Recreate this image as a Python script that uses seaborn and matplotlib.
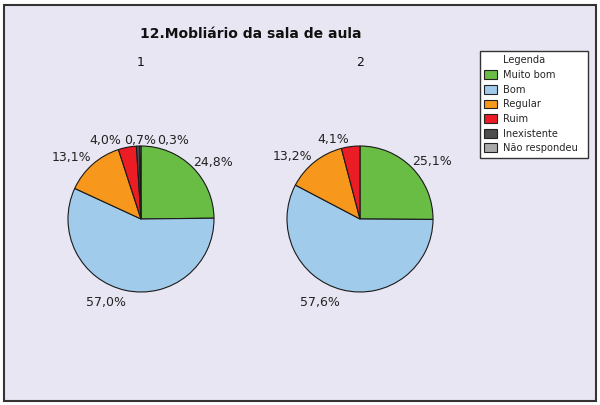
import seaborn as sns, numpy as np
import matplotlib.pyplot as plt
from matplotlib.patches import Patch, Rectangle

# data
categorias = ["Muito bom", "Bom", "Regular", "Ruim", "Inexistente", "Não respondeu"]
turma1 = [24.8, 57.0, 13.1, 4.0, 0.7, 0.3]
turma2 = [25.1, 57.6, 13.2, 4.1, 0.0, 0.0]
titulos = ["1", "2"]
cores = sns.color_palette(["#69bd45", "#a1cbea", "#f7981d", "#ec1c24", "#4d4d4d", "#a9a9a9"])

sns.set_style("white")
plt.rcParams['font.family'] = ['DejaVu Sans']

fig = plt.figure(figsize=(6, 4.05), dpi=100)
fig.patch.set_facecolor("white")
fig.patches.append(Rectangle((4/600, 4/405), 592/600, 396/405, transform=fig.transFigure,
                             facecolor="#e8e6f2", edgecolor="#333333", lw=1.5, zorder=-1))

fig.text(251/600, 1 - 34/405, "12.Mobliário da sala de aula", ha="center", va="center",
         fontsize=10, fontweight="bold", color="#111111")

R = 73.0
centros = [(141, 219), (360, 219)]
# label placement (radius units, relative to pie centre)
pos_rotulos = [[(0.99, 0.78), (-0.48, -1.15), (-0.95, 0.84), (-0.49, 1.07), (-0.01, 1.07), (0.44, 1.07)],
               [(0.99, 0.79), (-0.55, -1.14), (-0.92, 0.86), (-0.37, 1.09)]]

for k, (vals, (cx, cy)) in enumerate(zip([turma1, turma2], centros)):
    ax = fig.add_axes([(cx - 100) / 600, 1 - (cy + 100) / 405, 200 / 600, 200 / 405])
    ax.set_facecolor("none")
    keep = [i for i, v in enumerate(vals) if v > 0]
    lbls = [f"{vals[i]:.1f}%".replace(".", ",") for i in keep]
    wedges, texts = ax.pie([vals[i] for i in keep], labels=lbls, colors=[cores[i] for i in keep],
                           startangle=90, counterclock=False, labeldistance=1.27,
                           wedgeprops=dict(edgecolor="#1a1a1a", linewidth=0.8),
                           textprops=dict(fontsize=9, color="#222222"))
    for j, t in enumerate(texts):
        t.set_ha("center")
        t.set_va("center")
        t.set_position(pos_rotulos[k][j])
    ax.set_xlim(-100 / R, 100 / R)
    ax.set_ylim(-100 / R, 100 / R)
    ax.axis("off")
    fig.text(cx / 600, 1 - 62 / 405, titulos[k], ha="center", va="center", fontsize=9, color="#111111")

leg_handles = [Patch(facecolor="none", edgecolor="none")] + \
    [Patch(facecolor=c, edgecolor="#222222", linewidth=0.8) for c in cores]
leg = fig.legend(leg_handles, ["Legenda"] + categorias, loc="upper left",
                 bbox_to_anchor=(480 / 600, 1 - 158 / 405, 108 / 600, 107 / 405), mode="expand",
                 frameon=True, fancybox=False, framealpha=1,
                 fontsize=7.1, handlelength=1.25, handleheight=1.0, handletextpad=0.6,
                 labelspacing=0.47, borderpad=0.45, borderaxespad=0)
leg.get_frame().set_edgecolor("#333333")
leg.get_frame().set_linewidth(1.0)
leg.get_frame().set_facecolor("white")

fig.savefig("out.png", dpi=100)
